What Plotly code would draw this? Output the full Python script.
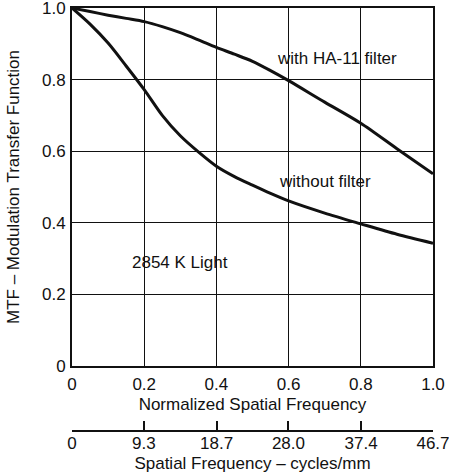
import plotly.graph_objects as go

# Normalized spatial frequency samples
freq_norm = [0, 0.05, 0.1, 0.15, 0.2, 0.25, 0.3, 0.35, 0.4, 0.45, 0.5, 0.55, 0.6, 0.7, 0.8, 0.9, 1.0]
# MTF with the HA-11 filter
mtf_with_filter = [1.0, 0.990, 0.980, 0.971, 0.962, 0.948, 0.931, 0.911, 0.890, 0.871, 0.851,
                   0.825, 0.797, 0.737, 0.678, 0.607, 0.537]
# MTF without filter
mtf_without_filter = [1.0, 0.955, 0.902, 0.838, 0.772, 0.700, 0.643, 0.598, 0.558, 0.529, 0.505,
                      0.482, 0.461, 0.427, 0.397, 0.368, 0.343]

norm_ticks = [0, 0.2, 0.4, 0.6, 0.8, 1.0]
norm_labels = ["0", "0.2", "0.4", "0.6", "0.8", "1.0"]
mtf_ticks = [0, 0.2, 0.4, 0.6, 0.8, 1.0]
mtf_labels = ["0", "0.2", "0.4", "0.6", "0.8", "1.0"]
cycles_ticks = [0, 9.3, 18.7, 28.0, 37.4, 46.7]
cycles_labels = ["0", "9.3", "18.7", "28.0", "37.4", "46.7"]

FONT = "Liberation Sans, Arial, sans-serif"
INK = "#111111"
FS = 17

fig = go.Figure()
for series in (mtf_with_filter, mtf_without_filter):
    fig.add_trace(go.Scatter(x=freq_norm, y=series, mode="lines",
                             line=dict(color=INK, width=3, shape="spline", smoothing=0.8),
                             hoverinfo="skip"))
# carrier trace for the cycles/mm scale
fig.add_trace(go.Scatter(x=[cycles_ticks[0], cycles_ticks[-1]], y=[None, None],
                         xaxis="x2", yaxis="y", mode="lines", hoverinfo="skip"))

labels = [
    ("with HA-11 filter", 0.733, 0.858),
    ("without filter", 0.702, 0.514),
    ("2854 K Light", 0.30, 0.289),
]
for txt, ax_, ay_ in labels:
    fig.add_annotation(x=ax_, y=ay_, text=txt, showarrow=False,
                       font=dict(family=FONT, size=FS, color=INK))

fig.update_layout(
    width=449, height=474,
    margin=dict(l=72, r=16, t=8, b=0),
    paper_bgcolor="white", plot_bgcolor="white",
    showlegend=False,
    font=dict(family=FONT, size=FS, color=INK),
    xaxis=dict(range=[0, 1], tickvals=norm_ticks, ticktext=norm_labels,
               showgrid=True, gridcolor=INK, gridwidth=1,
               showline=True, linecolor=INK, linewidth=2, mirror=True,
               ticks="", zeroline=False, ticklabelstandoff=2, automargin=False,
               title=dict(text="Normalized Spatial Frequency", standoff=5,
                          font=dict(size=FS))),
    yaxis=dict(range=[0, 1], domain=[0.2318, 1], tickvals=mtf_ticks, ticktext=mtf_labels,
               showgrid=True, gridcolor=INK, gridwidth=1,
               showline=True, linecolor=INK, linewidth=2, mirror=True,
               ticks="", zeroline=False, ticklabelstandoff=1, automargin=False,
               ticklabeloverflow="allow",
               title=dict(text="MTF – Modulation Transfer Function", standoff=18,
                          font=dict(size=FS))),
    xaxis2=dict(range=[0, 46.7], overlaying="x", anchor="free", position=0.0922,
                side="bottom", tickvals=cycles_ticks, ticktext=cycles_labels,
                showgrid=False, zeroline=False, automargin=False,
                showline=True, linecolor=INK, linewidth=1.5,
                ticks="inside", ticklen=9, tickwidth=1.5, tickcolor=INK,
                ticklabelstandoff=-3, ticklabeloverflow="allow",
                title=dict(text="Spatial Frequency – cycles/mm", standoff=4,
                           font=dict(size=FS))),
)

fig.write_html("out.html")
